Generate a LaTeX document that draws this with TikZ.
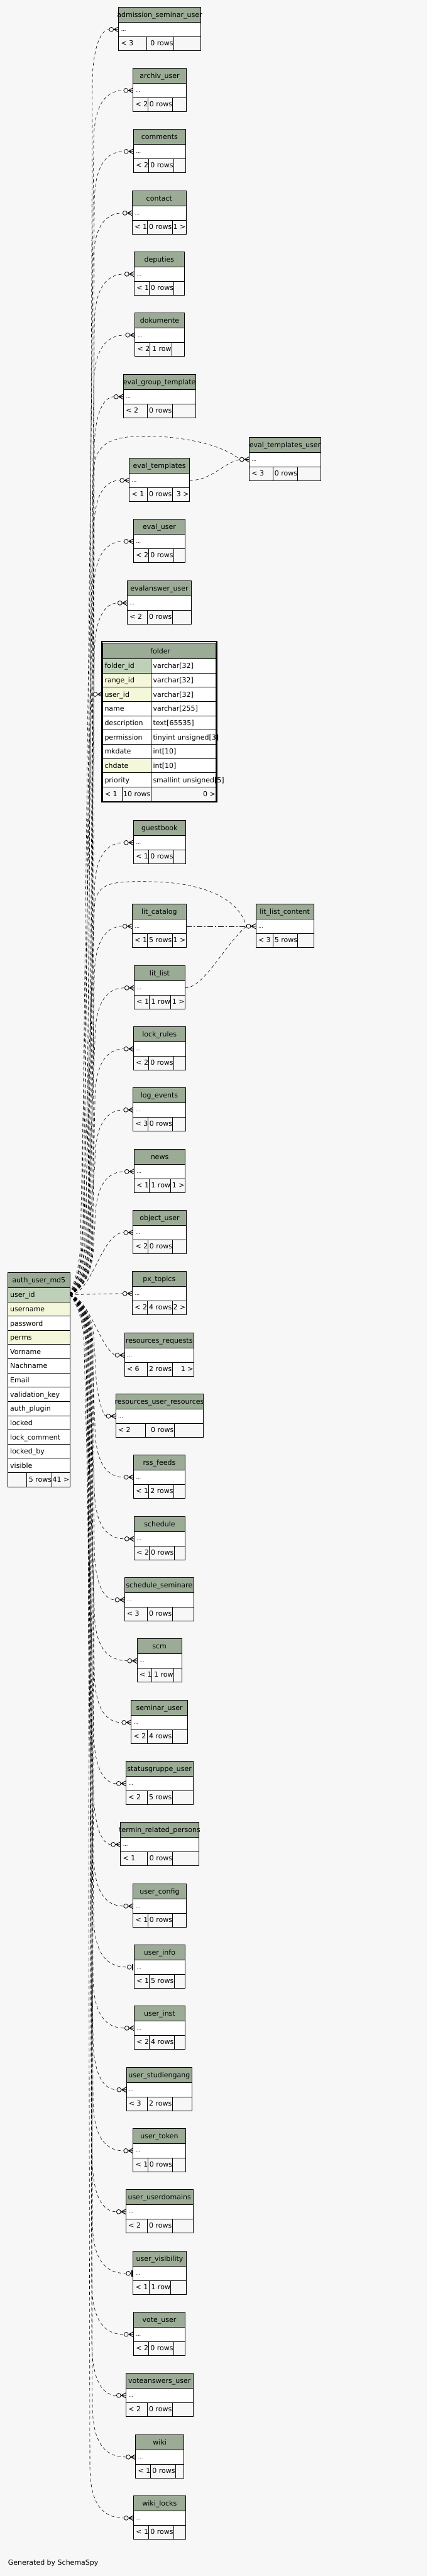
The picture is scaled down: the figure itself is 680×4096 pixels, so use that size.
\documentclass[tikz,border=0pt]{standalone}
\usepackage{fontspec}
\setmainfont{DejaVu Sans}
\usetikzlibrary{calc}
\definecolor{bg}{HTML}{F7F7F7}
\definecolor{hdr}{HTML}{9BAB96}
\definecolor{pk}{HTML}{BED1B8}
\definecolor{idx}{HTML}{F4F7DA}
\newlength\hw
\newcommand\fs{\fontsize{11}{13}\selectfont}
\newcommand\fsd{\fontsize{8}{10}\selectfont}
\pgfdeclarelayer{bgl}\pgfdeclarelayer{edges}\pgfsetlayers{bgl,edges,main}
\tikzset{
 tline/.style={line width=0.7pt},
 cellbox/.style={draw,line width=0.7pt,inner sep=0pt,outer sep=0pt},
 hlab/.style={font=\fs,inner sep=0pt,anchor=base},
 tx/.style={font=\fs,inner sep=0pt,anchor=base west},
 txr/.style={font=\fs,inner sep=0pt,anchor=base east},
 rel/.style={line width=0.6pt,dash pattern=on 5pt off 4pt},
 crowl/.style={line width=1pt},
}
% simple table: name, label, x1, x2, ytop, d1, d2, left, mid
\newcommand\stbl[9]{%
 \filldraw[fill=hdr,tline] (#3,#5) rectangle (#4,#5+24);
 \settowidth{\hw}{\fs #2}%
 \node[hlab,xshift=0.055\hw] (#1-h) at ({(#3+#4)/2},#5+16) {#2};
 \node[cellbox,fill=white,minimum width={#4-#3},minimum height=23,anchor=north west] (#1) at (#3,#5+24) {};
 \node[tx,font=\fsd] (#1-d) at (#3+4,#5+38.5) {...};
 \filldraw[fill=bg,tline] (#3,#5+47) rectangle (#4,#5+69);
 \draw[tline] (#6,#5+47) -- (#6,#5+69) (#7,#5+47) -- (#7,#5+69);
 \node[tx] (#1-l) at (#3+3.8,#5+61.5) {#8};
 \node[txr] (#1-m) at (#7-0.5,#5+61.5) {#9};
}
\newcommand\rtx[2]{\node[txr] (#1-r) at ($(#1.south east)+(-0.8,14.5)$) {#2};}
% cell: name, x1, x2, ytop, h, fill, text
\newcommand\cell[7]{%
 \node[cellbox,fill=#6,minimum width={#3-#2},minimum height=#5,anchor=north west] (#1) at (#2,#4) {};
 \node[tx] (#1-t) at (#2+3.3,#4+15.5) {#7};}
% connector from auth_user_md5.user_id: target, bx start, bx end, dir, end offset
\newcommand\conn[5]{%
 \draw[rel] (auid.east)
  .. controls ($(O|-auid.east)+({#2-14},{10*#4})$) and ($(O|-auid.east)+(#2,{40*#4})$)
  .. ($(O|-auid.east)+(#2,{85*#4})$)
  -- ($(O|-#1.west)+(#3,{-85*#4})$)
  .. controls ($(O|-#1.west)+(#3,{-35*#4})$) and ($(O|-#1.west)+({#3+12},0)$)
  .. ($(#1.west)+(-#5,0)$);}
\newcommand\crow[1]{%
 \draw[line width=0.8pt,fill=bg] ($(#1.west)+(-11.5,0)$) circle (3.4pt);
 \draw[crowl] ($(#1.west)+(-7.5,0)$) -- ($(#1.west)+(0,-4)$)
  ($(#1.west)+(-7.5,0)$) -- (#1.west)
  ($(#1.west)+(-7.5,0)$) -- ($(#1.west)+(0,4)$);}
\newcommand\tee[1]{%
 \draw[line width=0.8pt,fill=bg] ($(#1.west)+(-7.5,0)$) circle (3.4pt);
 \fill ($(#1.west)+(-3,-5)$) rectangle ($(#1.west)+(-1,5)$);}
\begin{document}
\begin{tikzpicture}[x=1pt,y=-1pt]
\useasboundingbox (0,0) rectangle (680,4096);
\begin{pgfonlayer}{bgl}
\fill[bg] (0,0) rectangle (680,4096);
\end{pgfonlayer}
\coordinate (O) at (0,0);

% ---------- simple tables
\stbl{adm}{admission\_seminar\_user}{188.7}{319.3}{11.3}{233.3}{276.3}{< 3}{0 rows}
\stbl{arch}{archiv\_user}{211.7}{296.3}{108.3}{235}{274.7}{< 2}{0 rows}
\stbl{comm}{comments}{212.3}{295.3}{205.3}{236.3}{276.3}{< 2}{0 rows}
\stbl{cont}{contact}{210.3}{296.3}{303.3}{234}{274}{< 1}{0 rows}\rtx{cont}{1 >}
\stbl{dep}{deputies}{213.3}{293.3}{400.3}{237}{276.7}{< 1}{0 rows}
\stbl{dok}{dokumente}{214.7}{293.3}{497.3}{238}{273.3}{< 2}{1 row}
\stbl{egt}{eval\_group\_template}{196.3}{311}{595.3}{234}{274}{< 2}{0 rows}
\stbl{etu}{eval\_templates\_user}{396.3}{510.7}{695}{434}{473.7}{< 3}{0 rows}
\stbl{et}{eval\_templates}{205.7}{301.7}{728.3}{234}{274}{< 1}{0 rows}\rtx{et}{3 >}
\stbl{eu}{eval\_user}{212.3}{294.7}{825.3}{236.3}{276.3}{< 2}{0 rows}
\stbl{eau}{evalanswer\_user}{202.3}{304.7}{923.3}{234}{274}{< 2}{0 rows}
\stbl{gb}{guestbook}{212.3}{295.3}{1304.3}{236.3}{276.3}{< 1}{0 rows}
\stbl{lc}{lit\_catalog}{210.3}{296.3}{1437.3}{234}{274}{< 1}{5 rows}\rtx{lc}{1 >}
\stbl{llc}{lit\_list\_content}{407}{499.3}{1437.3}{434}{473.7}{< 3}{5 rows}
\stbl{ll}{lit\_list}{213.3}{294.7}{1535.3}{237}{271.7}{< 1}{1 row}\rtx{ll}{1 >}
\stbl{lr}{lock\_rules}{212.3}{295.3}{1632.3}{236.3}{276.3}{< 2}{0 rows}
\stbl{le}{log\_events}{211.7}{295.3}{1729.3}{235}{274.7}{< 3}{0 rows}
\stbl{nw}{news}{213.3}{294.7}{1827.3}{237}{271.7}{< 1}{1 row}\rtx{nw}{1 >}
\stbl{ou}{object\_user}{211.7}{296.3}{1924.3}{235}{274.7}{< 2}{0 rows}
\stbl{px}{px\_topics}{210.3}{296.3}{2021.3}{234}{274}{< 2}{4 rows}\rtx{px}{2 >}
\stbl{rr}{resources\_requests}{198}{308.7}{2119.3}{234}{274}{< 6}{2 rows}\rtx{rr}{1 >}
\stbl{rur}{resources\_user\_resources}{184}{323}{2216.3}{231}{277}{< 2}{0 rows}
\stbl{rss}{rss\_feeds}{212.3}{294.7}{2313.3}{236.3}{276.3}{< 1}{2 rows}
\stbl{sch}{schedule}{213.3}{294.7}{2411.3}{237}{277}{< 2}{0 rows}
\stbl{ss}{schedule\_seminare}{198}{308.7}{2508.3}{234}{274}{< 3}{0 rows}
\stbl{scm}{scm}{218}{289.3}{2605.3}{241}{276.3}{< 1}{1 row}
\stbl{su}{seminar\_user}{208.7}{298.7}{2703.3}{234}{274}{< 2}{4 rows}
\stbl{sgu}{statusgruppe\_user}{200.3}{307}{2800.3}{234}{274}{< 2}{5 rows}
\stbl{trp}{termin\_related\_persons}{191.7}{316.3}{2897.3}{234}{274.7}{< 1}{0 rows}
\stbl{uc}{user\_config}{211.7}{296.3}{2995.3}{235}{274.7}{< 1}{0 rows}
\stbl{ui}{user\_info}{213.3}{294.7}{3092.3}{237}{277}{< 1}{5 rows}
\stbl{uin}{user\_inst}{213.3}{294.7}{3189.3}{237}{277}{< 2}{4 rows}
\stbl{usg}{user\_studiengang}{201}{305.7}{3287.3}{234}{274}{< 3}{2 rows}
\stbl{ut}{user\_token}{211.7}{295.3}{3384.3}{235}{274.7}{< 1}{0 rows}
\stbl{uud}{user\_userdomains}{200.3}{307}{3481.3}{234}{274}{< 2}{0 rows}
\stbl{uv}{user\_visibility}{211.7}{296.3}{3579.3}{237}{271.7}{< 1}{1 row}
\stbl{vu}{vote\_user}{212.3}{294.7}{3676.3}{236.3}{276.3}{< 2}{0 rows}
\stbl{vau}{voteanswers\_user}{200.3}{307}{3773.3}{234}{274}{< 2}{0 rows}
\stbl{wk}{wiki}{215.7}{292.7}{3871.3}{239.3}{279.3}{< 1}{0 rows}
\stbl{wl}{wiki\_locks}{212.3}{295.3}{3968.3}{236.3}{276.3}{< 1}{0 rows}

% ---------- folder
\filldraw[fill=white,line width=1.8pt] (161.9,1020.3) rectangle (344.8,1275.2);
\filldraw[fill=hdr,tline] (163,1022) rectangle (343.7,1047.3);
\node[hlab,xshift=1.8pt] (fold-h) at (253.35,1039) {folder};
\cell{f1}{163}{240}{1047.3}{22.67}{pk}{folder\_id}
\cell{f1r}{240}{343.7}{1047.3}{22.67}{white}{varchar[32]}
\cell{f2}{163}{240}{1069.97}{22.67}{idx}{range\_id}
\cell{f2r}{240}{343.7}{1069.97}{22.67}{white}{varchar[32]}
\cell{fuid}{163}{240}{1092.64}{22.67}{idx}{user\_id}
\cell{f3r}{240}{343.7}{1092.64}{22.67}{white}{varchar[32]}
\cell{f4}{163}{240}{1115.31}{22.67}{white}{name}
\cell{f4r}{240}{343.7}{1115.31}{22.67}{white}{varchar[255]}
\cell{f5}{163}{240}{1137.98}{22.67}{white}{description}
\cell{f5r}{240}{343.7}{1137.98}{22.67}{white}{text[65535]}
\cell{f6}{163}{240}{1160.65}{22.67}{white}{permission}
\cell{f6r}{240}{343.7}{1160.65}{22.67}{white}{tinyint unsigned[3]}
\cell{f7}{163}{240}{1183.32}{22.67}{white}{mkdate}
\cell{f7r}{240}{343.7}{1183.32}{22.67}{white}{int[10]}
\cell{f8}{163}{240}{1205.99}{22.67}{idx}{chdate}
\cell{f8r}{240}{343.7}{1205.99}{22.67}{white}{int[10]}
\cell{f9}{163}{240}{1228.66}{22.67}{white}{priority}
\cell{f9r}{240}{343.7}{1228.66}{22.67}{white}{smallint unsigned[5]}
\filldraw[fill=bg,tline] (163,1251.33) rectangle (343.7,1274);
\draw[tline] (194,1251.33) -- (194,1274) (240,1251.33) -- (240,1274);
\node[tx] (fold-l) at (166.8,1266.5) {< 1};
\node[txr] (fold-m) at (239.5,1266.5) {10 rows};
\node[txr] (fold-r) at (343,1266.5) {0 >};

% ---------- auth_user_md5
\filldraw[fill=hdr,tline] (12.7,2023.3) rectangle (111,2047.3);
\settowidth{\hw}{\fs auth\_user\_md5}%
\node[hlab,xshift=0.045\hw] (au-h) at (61.85,2039.3) {auth\_user\_md5};
\cell{auid}{12.7}{111}{2047.3}{22.62}{pk}{user\_id}
\cell{au2}{12.7}{111}{2069.92}{22.62}{idx}{username}
\cell{au3}{12.7}{111}{2092.54}{22.62}{white}{password}
\cell{au4}{12.7}{111}{2115.16}{22.62}{idx}{perms}
\cell{au5}{12.7}{111}{2137.78}{22.62}{white}{Vorname}
\cell{au6}{12.7}{111}{2160.40}{22.62}{white}{Nachname}
\cell{au7}{12.7}{111}{2183.02}{22.62}{white}{Email}
\cell{au8}{12.7}{111}{2205.64}{22.62}{white}{validation\_key}
\cell{au9}{12.7}{111}{2228.26}{22.62}{white}{auth\_plugin}
\cell{au10}{12.7}{111}{2250.88}{22.62}{white}{locked}
\cell{au11}{12.7}{111}{2273.50}{22.62}{white}{lock\_comment}
\cell{au12}{12.7}{111}{2296.12}{22.62}{white}{locked\_by}
\cell{au13}{12.7}{111}{2318.74}{22.62}{white}{visible}
\filldraw[fill=bg,tline] (12.7,2341.36) rectangle (111,2364.3);
\draw[tline] (42.7,2341.36) -- (42.7,2364.3) (82.7,2341.36) -- (82.7,2364.3);
\node[txr] (au-m) at (82.2,2356.5) {5 rows};
\node[txr] (au-r) at (110.5,2356.5) {41 >};

\node[tx] (gen) at (12.7,4078.3) {Generated by SchemaSpy};

% ---------- connectors
\begin{pgfonlayer}{edges}
\conn{adm}{140}{147}{-1}{15}
\conn{arch}{134}{149}{-1}{15}
\conn{comm}{146}{150}{-1}{15}
\conn{cont}{130}{148}{-1}{15}
\conn{dep}{142}{150}{-1}{15}
\conn{dok}{137}{149}{-1}{15}
\conn{egt}{148}{150}{-1}{15}
\conn{et}{144}{149}{-1}{15}
\conn{eu}{128}{149}{-1}{15}
\conn{eau}{140}{150}{-1}{15}
\conn{gb}{135}{150}{-1}{15}
\conn{lc}{143}{150}{-1}{15}
\conn{ll}{138}{151}{-1}{15}
\conn{lr}{147}{151}{-1}{15}
\conn{le}{141}{151}{-1}{15}
\conn{nw}{149}{151}{-1}{15}
\draw[rel] (auid.east) .. controls ($(auid.east)+(35,0)$) and ($(ou.west)+(-50,0)$) .. ($(ou.west)+(-15,0)$);
\draw[rel] (auid.east) -- ($(px.west)+(-15,0)$);
\draw[rel] (auid.east) .. controls ($(auid.east)+(30,5)$) and ($(rr.west)+(-40,-15)$) .. ($(rr.west)+(-15,0)$);
% folder
\draw[rel] (auid.east)
  .. controls ($(O|-auid.east)+(132,-10)$) and ($(O|-auid.east)+(146,-40)$)
  .. ($(O|-auid.east)+(146,-85)$)
  -- ($(O|-fuid.west)+(147,30)$)
  .. controls ($(O|-fuid.west)+(147,10)$) and ($(fuid.west)+(-18,4)$)
  .. ($(fuid.west)+(-15,0)$);
% arc to eval_templates_user
\draw[rel] (auid.east)
  .. controls ($(O|-auid.east)+(118,-10)$) and ($(O|-auid.east)+(132,-40)$)
  .. ($(O|-auid.east)+(132,-85)$)
  -- ($(O|-etu.west)+(148,25)$)
  .. controls ($(O|-etu.west)+(150,-20)$) and ($(etu.west)+(-230,-38)$)
  .. ($(etu.west)+(-160,-37)$)
  .. controls ($(etu.west)+(-90,-36)$) and ($(etu.west)+(-35,-18)$)
  .. ($(etu.west)+(-15,0)$);
\draw[rel] (et.east) .. controls ($(et.east)+(35,0)$) and ($(etu.west)+(-45,8)$) .. ($(etu.west)+(-15,0)$);
% arc to lit_list_content
\draw[rel] (auid.east)
  .. controls ($(O|-auid.east)+(117,-10)$) and ($(O|-auid.east)+(131,-40)$)
  .. ($(O|-auid.east)+(131,-85)$)
  -- ($(O|-llc.west)+(150,-25)$)
  .. controls ($(O|-llc.west)+(151,-68)$) and ($(llc.west)+(-235,-72)$)
  .. ($(llc.west)+(-170,-71)$)
  .. controls ($(llc.west)+(-80,-70)$) and ($(llc.west)+(-27,-43)$)
  .. ($(llc.west)+(-15,0)$);
\draw[line width=0.6pt,dash pattern=on 9pt off 3pt on 2pt off 3pt] (lc.east) -- ($(llc.west)+(-15,0)$);
\draw[rel] (ll.east) .. controls ($(ll.east)+(30,0)$) and ($(llc.west)+(-50,30)$) .. ($(llc.west)+(-15,0)$);
% downward
\conn{rur}{150}{152}{1}{15}
\conn{rss}{146}{151}{1}{15}
\conn{sch}{140}{150}{1}{15}
\conn{ss}{148}{150}{1}{15}
\conn{scm}{136}{150}{1}{15}
\conn{su}{144}{150}{1}{15}
\conn{sgu}{134}{149}{1}{15}
\conn{trp}{147}{149}{1}{15}
\conn{uc}{141}{149}{1}{15}
\conn{ui}{138}{149}{1}{11}
\conn{uin}{145}{148}{1}{15}
\conn{usg}{137}{148}{1}{15}
\conn{ut}{143}{148}{1}{15}
\conn{uud}{139}{147}{1}{15}
\conn{uv}{146}{147}{1}{11}
\conn{vu}{142}{146}{1}{15}
\conn{vau}{144}{146}{1}{15}
\conn{wk}{141}{147}{1}{15}
\conn{wl}{140}{143}{1}{15}
\end{pgfonlayer}

% ---------- ends
\foreach \t in {adm,arch,comm,cont,dep,dok,egt,etu,et,eu,eau,gb,lc,llc,ll,lr,le,nw,ou,px,rr,rur,rss,sch,ss,scm,su,sgu,trp,uc,uin,usg,ut,uud,vu,vau,wk,wl,fuid}{\crow{\t}}
\tee{ui}
\tee{uv}
\end{tikzpicture}
\end{document}
